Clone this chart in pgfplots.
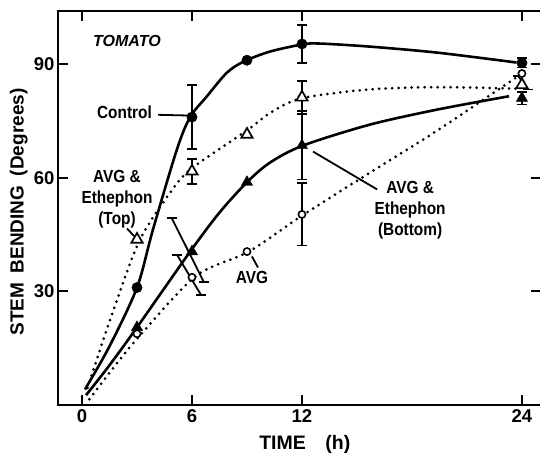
\documentclass[border=0pt]{standalone}
\usepackage{fontspec}
\setmainfont{Liberation Sans}
\newfontfamily\narrowsans[FakeStretch=0.88]{Liberation Sans}
\usepackage{pgfplots}
\pgfplotsset{compat=1.18}

\newcommand{\notefont}{\narrowsans\fontsize{17.5bp}{21bp}\selectfont\bfseries}

\begin{document}
\begin{tikzpicture}
\begin{axis}[
  name=ax,
  scale only axis,
  width=483bp, height=394bp,
  xmin=-1.31, xmax=25.04,
  ymin=0, ymax=104,
  xtick={0,6,12,24},
  ytick={30,60,90},
  tick align=inside,
  major tick length=10bp,
  axis line style={line width=2.2bp},
  every tick/.style={line width=1.8bp, black},
  /pgf/number format/assume math mode=true,
  tick label style={font=\fontsize{18.5bp}{18bp}\selectfont\bfseries},
  xticklabel style={yshift=-1bp},
  xlabel={TIME\quad(h)},
  ylabel={STEM\enspace BENDING\enspace(Degrees)},
  xlabel style={at={(rel axis cs:0.511,-0.1)}, anchor=center,
    font=\fontsize{19.5bp}{20bp}\selectfont\bfseries},
  ylabel style={at={(rel axis cs:-0.081,0.49)}, anchor=center, rotate=0,
    font=\fontsize{19bp}{20bp}\selectfont\bfseries},
  clip=false,
]

% fitted response curves
\addplot[black, line width=2.6bp, smooth] coordinates {
  (0.16,4.1) (1.5,15.5) (3,31) (3.87,46.3) (5.18,67.5) (5.9,76) (6.8,81.4)
  (7.9,87.7) (8.84,90.7) (10.26,93.3) (12.06,95.2) (13,95.4) (15.7,94.6)
  (19.4,93) (23.7,90.4)};
\addplot[black, line width=2.6bp, smooth] coordinates {
  (0.22,2.6) (1.5,10.5) (3,20.5) (5.9,40.5) (7.5,50.8) (9,58.8) (10.26,64)
  (12.06,68.5) (15.7,74) (19.4,78) (23.3,81.5)};
\addplot[black, line width=3bp, line cap=round, dash pattern=on 0bp off 6.5bp, smooth] coordinates {
  (0.3,4.5) (1.5,22) (3.1,43) (4.8,56) (6,62.5) (9,72.5) (10.3,77.2) (12,81)
  (15.7,83.3) (19.4,83.9) (23.7,83.5)};
\addplot[black, line width=3bp, line cap=round, dash pattern=on 0bp off 6.5bp, smooth] coordinates {
  (0.4,1.5) (1.5,8.5) (3.1,18) (6.2,34) (9.1,40.5) (12.1,50.3) (15.7,61.3)
  (19.4,72.5) (23.7,86.5)};

% error bars
\pgfplotsset{ebar/.style={draw=none, mark=none, forget plot,
  error bars/.cd, y dir=both, y explicit,
  error bar style={draw=black, solid, line width=1.8bp},
  error mark options={draw=black, solid, rotate=90, mark size=5bp, line width=1.8bp}}}
\addplot[ebar] coordinates {(6,76) +- (0,8.5) (12,95.3) +- (0,5) (24,90.3) +- (0,1.2)};
\addplot[ebar] coordinates {(6,61.7) +- (0,3.3) (12,81.2) +- (0,4.3)};
\addplot[ebar] coordinates {(12,68.5) +- (0,9) (24,81) +- (0,1.7)};
\addplot[ebar] coordinates {(12,50.3) +- (0,8.2)};
% error bars offset sideways where the points crowd
\addplot[black, line width=1.8bp, mark=-, mark size=5bp, mark options={solid, line width=1.8bp}]
  coordinates {(4.9,49.3) (6.65,32.4)};
\addplot[black, line width=1.8bp, mark=-, mark size=5bp, mark options={solid, line width=1.8bp}]
  coordinates {(5.2,39.5) (6.5,29.0)};
\addplot[black, line width=1.8bp, mark=-, mark size=5bp, mark options={solid, line width=1.8bp}]
  coordinates {(23.8,86.8) (24.35,83.3)};

% measured values
\addplot[only marks, mark=triangle*, mark size=6.5bp, mark options={fill=white, draw=black, line width=1.7bp}]
  coordinates {(3,43.7) (6,61.7) (9,71.4) (12,81.2) (24,84.5)};
\addplot[only marks, mark=triangle*, mark size=6.5bp, mark options={fill=black, draw=black}]
  coordinates {(3,20.5) (6,40.5) (9,58.8) (12,68.5) (24,81)};
\addplot[only marks, mark=*, mark size=3.6bp, mark options={fill=white, draw=black, line width=1.6bp}]
  coordinates {(3,18.8) (6,33.7) (9,40.5) (12,50.3) (24,87.5)};
\addplot[only marks, mark=*, mark size=5.2bp, mark options={fill=black, draw=black}]
  coordinates {(3,31) (6,76) (9,91) (12,95.3) (24,90.3)};

% annotations
\node[font=\fontsize{16bp}{18bp}\selectfont\bfseries\itshape] at (axis cs:2.45,96) {TOMATO};
\node[font=\notefont, anchor=east] at (axis cs:4.0,77.2) {Control};
\draw[line width=1.8bp] (axis cs:4.15,76.6) -- (axis cs:5.9,76.4);
\node[font=\notefont, align=center] at (axis cs:1.91,54.2) {AVG \&\\Ethephon\\(Top)};
\draw[line width=1.8bp] (axis cs:2.45,46.6) -- (axis cs:2.84,44.6);
\node[font=\notefont] at (axis cs:9.27,33.7) {AVG};
\draw[line width=1.8bp] (axis cs:9.27,39.2) -- (axis cs:9.6,36.3);
\node[font=\notefont, align=center] at (axis cs:17.9,51.4) {AVG \&\\Ethephon\\(Bottom)};
\draw[line width=1.8bp] (axis cs:12.6,66.9) -- (axis cs:16.1,56.9);
\end{axis}
\pgfresetboundingbox
\path ([shift={(-58bp,-53bp)}]ax.south west) rectangle ([shift={(-1bp,11bp)}]ax.north east);
\end{tikzpicture}
\end{document}
